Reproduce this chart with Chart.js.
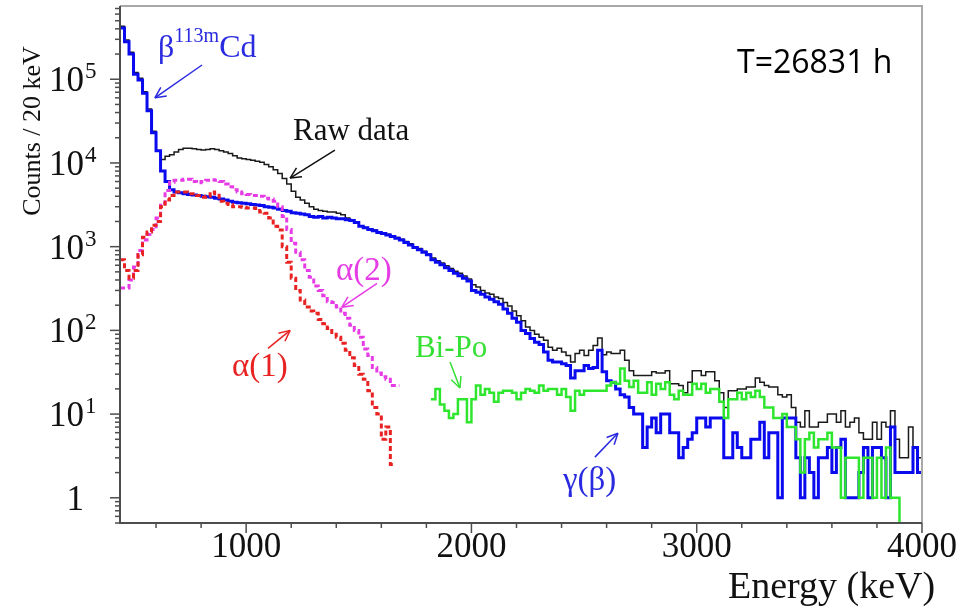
<!DOCTYPE html>
<html>
<head>
<meta charset="utf-8">
<script src="https://cdn.jsdelivr.net/npm/chart.js@4.4.1/dist/chart.umd.min.js"></script>
<style>
  html, body { margin: 0; padding: 0; background: #fff; }
  #wrap { width: 963px; height: 612px; }
</style>
</head>
<body>
<div id="wrap"><canvas id="spectrum" width="963" height="612"></canvas></div>
<script>
// energy binning (keV)
const binStart = 440;
const binWidth = 20;

// counts / 20 keV, one value per bin
const rawCounts = [
  4.3e5, 2.95e5, 2.1e5, 1.2e5, 1.03e5, 7.1e4, 4.4e4, 2.4e4, 1.4e4, 1.1e4,
  1.2e4, 1.25e4, 1.35e4, 1.45e4, 1.5e4, 1.5e4, 1.48e4, 1.45e4, 1.43e4, 1.45e4,
  1.48e4, 1.45e4, 1.4e4, 1.35e4, 1.3e4, 1.22e4, 1.15e4, 1.12e4, 1.1e4, 1.08e4,
  1.05e4, 1.02e4, 9600, 9000, 8300, 7500, 6500, 5600, 4600, 3900,
  3600, 3300, 3000, 2800, 2700, 2650, 2600, 2600, 2500, 2400,
  2200, 2050, 1950, 1780, 1700, 1630, 1580, 1510, 1470, 1410,
  1350, 1290, 1230, 1150, 1080, 1000, 950, 880, 820, 730,
  680, 640, 590, 550, 510, 480, 445, 410, 350, 330,
  300, 280, 270, 250, 240, 215, 195, 170, 150, 130,
  110, 100, 90, 83, 76, 63, 58, 61, 55, 50,
  42, 53, 58, 50, 58, 66, 81, 51, 55, 53,
  53, 58, 44, 33, 29, 29, 29, 29, 32, 31,
  31, 33, 23, 23, 22, 18, 24, 33, 33, 29,
  32, 32, 25, 18, 12, 19, 19, 20, 20, 21,
  21, 27, 24, 22, 21, 21, 17, 16, 17, 12,
  8, 7, 11, 7, 7, 8, 8, 10, 10, 8,
  11, 7, 8, 9, 6, 5, 5, 8, 5, 8,
  7, 11, 5, 3, 3, 7, 4, 3
];

const betaCdCounts = [
  4.1e5, 2.8e5, 2.0e5, 1.15e5, 9.8e4, 6.8e4, 4.2e4, 2.3e4, 1.4e4, 8000,
  6000, 4800, 4500, 4400, 4300, 4200, 4150, 4100, 4000, 3950,
  3900, 3800, 3700, 3600, 3500, 3400, 3350, 3300, 3250, 3200,
  3150, 3100, 3000, 2950, 2900, 2800, 2700, 2650, 2550, 2500,
  2450, 2400, 2300, 2250, 2300, 2200, 2250, 2200, 2150, 2150,
  2100, 2050, 1950, 1750, 1680, 1600, 1550, 1480, 1440, 1380,
  1320, 1260, 1200, 1120, 1050, 980, 920, 860, 800, 700,
  650, 610, 560, 520, 480, 450, 420, 390, 300, 285,
  270, 250, 235, 220, 205, 180, 160, 140, 125, 100,
  92, 80, 72, 68, 55, 44, 42, 42, 40, 38,
  27, 33, 33, 38, 35, 36, 58, 32, 25, 24,
  20, 17, 16, 12, 10, 10, 4, 7, 9, 6,
  10, 10, 6, 6, 3, 4, 5, 6, 9, 9,
  7, 9, 9, 9, 3, 3, 6, 4, 3, 3,
  5, 5, 8, 3, 6, 6, 1, 9, 9, 9,
  3, 1, 3, 2, 1, 3, 3, 4, 2, 4,
  5, 1, 1, 1, 2, 4, 1, 4, 4, 3,
  1, 7, 2, 2, 2, 2, 4, 2
];

// Bi-Po starts at bin 69 (1820 keV)
const biPoFirstBin = 69;
const biPoCounts = [
  15, 20, 13, 11, 9, 10, 15, 15, 8, 15,
  22, 17, 20, 18, 14, 18, 19, 19, 18, 15,
  18, 20, 19, 18, 22, 19, 20, 20, 17, 20,
  16, 11, 19, 17, 19, 19, 19, 19, 19, 22,
  24, 23, 35, 25, 21, 25, 18, 18, 24, 17,
  23, 20, 24, 17, 15, 19, 17, 17, 23, 20,
  23, 18, 20, 20, 14, 9, 15, 15, 18, 15,
  18, 16, 19, 16, 12, 12, 9, 9, 10, 7,
  7, 5, 2, 5, 6, 4, 5, 5, 6, 4,
  4, 1, 3, 3, 3, 1, 3, 3, 1, 3,
  1, 4, 1, 1, 0, 0, 0, 0, 0
];

const alpha1Counts = [
  700, 520, 420, 520, 800, 1300, 1500, 1800, 2000, 3000,
  3600, 4100, 4500, 4500, 4500, 4300, 4300, 4100, 3900, 4000,
  4500, 4300, 3500, 3300, 3200, 3000, 3000, 2950, 2900, 2900,
  2850, 2600, 2500, 2200, 1750, 1580, 1000, 650, 420, 300,
  230, 190, 170, 160, 135, 120, 105, 90, 83, 70,
  58, 47, 38, 30, 26, 19, 12, 10, 5, 7,
  2.5
];

const alpha2Counts = [
  320, 320, 400, 570, 900, 1200, 1400, 1600, 2200, 3300,
  4700, 5900, 6200, 6200, 6400, 6400, 6000, 5800, 6000, 6200,
  6300, 6200, 6000, 5600, 5200, 4800, 4500, 4300, 4200, 4100,
  4100, 4000, 3800, 3700, 3500, 3000, 2300, 1600, 1100, 860,
  700, 520, 430, 340, 300, 260, 220, 215, 190, 160,
  140, 115, 100, 83, 60, 50, 36, 31, 28, 26,
  22, 22
];

const xTickLabels = [1000, 2000, 3000, 4000];
const yDecades = [0, 1, 2, 3, 4, 5];

// empty bins are sent below the axis so the step drops off the plot
const emptyLevel = 0.05;

function histPoints(counts, firstBin) {
  const pts = counts.map((c, k) => ({
    x: binStart + (firstBin + k) * binWidth,
    y: c > 0 ? c : emptyLevel
  }));
  pts.push({ x: binStart + (firstBin + counts.length) * binWidth, y: pts[pts.length - 1].y });
  return pts;
}

const serif = "'Liberation Serif', 'Times New Roman', serif";

// labels and arrows placed in data units (keV, counts)
const notes = [
  { parts: [["β", 32, 0], ["113m", 20, 15], ["Cd", 32, 0]], at: [609, 1.84e5], color: "#2a2ae0" },
  { parts: [["Raw data", 31, 0]], at: [1208, 1.88e4], color: "#111" },
  { parts: [["α(2)", 33, 0]], at: [1399, 400], color: "#e63ce6" },
  { parts: [["α(1)", 33, 0]], at: [937, 28.5], color: "#e82222" },
  { parts: [["Bi-Po", 31, 0]], at: [1749, 48], color: "#35e035" },
  { parts: [["γ(β)", 33, 0]], at: [2406, 1.24], color: "#2a2ae0" }
];
const arrows = [
  { from: [804, 1.48e5], to: [595, 6.0e4], color: "#2a2ae0" },
  { from: [1394, 1.42e4], to: [1195, 6.6e3], color: "#111" },
  { from: [1581, 365], to: [1425, 189], color: "#e63ce6" },
  { from: [1097, 61], to: [1195, 100], color: "#e82222" },
  { from: [1905, 42], to: [1949, 20.5], color: "#35e035" },
  { from: [2548, 3.06], to: [2650, 5.9], color: "#2a2ae0" }
];

const frame = {
  id: "frame",
  afterDraw(chart) {
    const { ctx, chartArea: a } = chart;
    const x = chart.scales.x, y = chart.scales.y;
    const line = (x0, y0, x1, y1) => { ctx.beginPath(); ctx.moveTo(x0, y0); ctx.lineTo(x1, y1); ctx.stroke(); };
    ctx.save();

    // box
    ctx.lineWidth = 2;
    ctx.strokeStyle = "#a9a9a9";
    ctx.beginPath(); ctx.moveTo(a.left, a.top); ctx.lineTo(a.right, a.top); ctx.lineTo(a.right, a.bottom); ctx.stroke();
    ctx.strokeStyle = "#4d4d4d";
    ctx.beginPath(); ctx.moveTo(a.left, a.top); ctx.lineTo(a.left, a.bottom); ctx.lineTo(a.right, a.bottom); ctx.stroke();

    // y ticks
    ctx.lineWidth = 1.5;
    for (let e = -1; e <= 6; e++) {
      for (let m = 1; m <= 9; m++) {
        const v = m * Math.pow(10, e);
        if (v < y.min || v > y.max) continue;
        const py = y.getPixelForValue(v);
        line(a.left - (m === 1 ? 10 : 5), py, a.left, py);
      }
    }
    // x ticks
    for (let e = 400; e <= 4000; e += 200) {
      if (e < x.min || e > x.max) continue;
      const px = x.getPixelForValue(e);
      line(px, a.bottom, px, a.bottom + (e % 1000 === 0 ? 10 : 5));
    }

    // tick labels
    ctx.fillStyle = "#111";
    ctx.textBaseline = "alphabetic";
    ctx.font = "35px " + serif;
    ctx.textAlign = "center";
    xTickLabels.forEach(v => ctx.fillText(String(v), x.getPixelForValue(v), 557));
    yDecades.forEach(d => {
      const py = y.getPixelForValue(Math.pow(10, d));
      ctx.textAlign = "right";
      ctx.font = "35px " + serif;
      ctx.fillText(d === 0 ? "1" : "10", 84, py + 12);
      if (d > 0) {
        ctx.textAlign = "left";
        ctx.font = "23px " + serif;
        ctx.fillText(String(d), 85, py - 1);
      }
    });

    // axis titles
    ctx.textAlign = "left";
    ctx.font = "38px " + serif;
    ctx.fillText("Energy (keV)", 728, 598);
    ctx.save();
    ctx.translate(40, 131);
    ctx.rotate(-Math.PI / 2);
    ctx.textAlign = "center";
    ctx.font = "26px " + serif;
    ctx.fillText("Counts / 20 keV", 0, 0);
    ctx.restore();

    // live time
    ctx.font = "32px 'Open Sans', sans-serif";
    ctx.fillStyle = "#000";
    ctx.fillText("T=26831 h", x.getPixelForValue(3179), y.getPixelForValue(1.19e5));

    // labels
    notes.forEach(n => {
      let px = x.getPixelForValue(n.at[0]);
      const py = y.getPixelForValue(n.at[1]);
      ctx.fillStyle = n.color;
      n.parts.forEach(([t, size, rise]) => {
        ctx.font = size + "px " + serif;
        ctx.fillText(t, px, py - rise);
        px += ctx.measureText(t).width;
      });
    });

    // arrows
    ctx.lineWidth = 1.5;
    arrows.forEach(ar => {
      const x0 = x.getPixelForValue(ar.from[0]), y0 = y.getPixelForValue(ar.from[1]);
      const x1 = x.getPixelForValue(ar.to[0]), y1 = y.getPixelForValue(ar.to[1]);
      const ang = Math.atan2(y1 - y0, x1 - x0);
      ctx.strokeStyle = ar.color;
      line(x0, y0, x1, y1);
      [-0.45, 0.45].forEach(da => line(x1, y1, x1 - 12 * Math.cos(ang + da), y1 - 12 * Math.sin(ang + da)));
    });

    ctx.restore();
  }
};

const ctx = document.getElementById("spectrum").getContext("2d");
const spectrumChart = new Chart(ctx, {
  type: "line",
  data: {
    datasets: [
      { label: "α(1)", data: histPoints(alpha1Counts, 0), borderColor: "#e82222", borderWidth: 3, borderDash: [5, 3] },
      { label: "α(2)", data: histPoints(alpha2Counts, 0), borderColor: "#e63ce6", borderWidth: 3, borderDash: [5, 3] },
      { label: "Bi-Po", data: histPoints(biPoCounts, biPoFirstBin), borderColor: "#2fe62f", borderWidth: 2.5 },
      { label: "β 113mCd", data: histPoints(betaCdCounts, 0), borderColor: "#0a0aee", borderWidth: 3 },
      { label: "Raw data", data: histPoints(rawCounts, 0), borderColor: "#1a1a1a", borderWidth: 1.5 }
    ]
  },
  options: {
    responsive: false,
    animation: false,
    devicePixelRatio: 1,
    layout: { padding: { left: 120, right: 41, top: 6, bottom: 89 } },
    elements: {
      point: { radius: 0 },
      line: { stepped: "before", tension: 0, borderJoinStyle: "miter", fill: false }
    },
    scales: {
      x: { type: "linear", min: 440, max: 4000, display: false },
      y: { type: "logarithmic", min: 0.5, max: 7.5e5, display: false }
    },
    plugins: {
      legend: { display: false },
      tooltip: { enabled: false }
    }
  },
  plugins: [frame]
});
</script>
</body>
</html>
